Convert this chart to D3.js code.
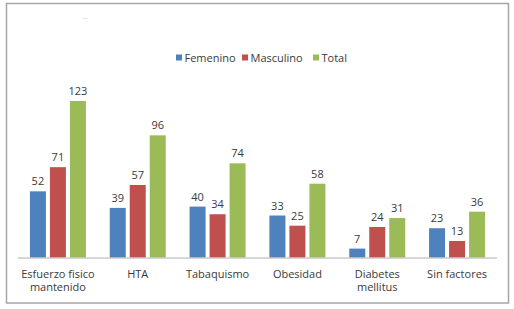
<!DOCTYPE html>
<html>
<head>
<meta charset="utf-8">
<script src="https://cdn.jsdelivr.net/npm/d3@7"></script>
<style>
  html, body { margin: 0; padding: 0; background: #fff; }
  text { font-family: "Open Sans", "Noto Sans", sans-serif; fill: #3a3a3a; }
</style>
</head>
<body>
<svg id="chart" width="514" height="309"></svg>
<script>
const categories = [["Esfuerzo fisico", "mantenido"], ["HTA"], ["Tabaquismo"], ["Obesidad"], ["Diabetes", "mellitus"], ["Sin factores"]];
const seriesNames = ["Femenino", "Masculino", "Total"];
const femenino = [52, 39, 40, 33, 7, 23];
const masculino = [71, 57, 34, 25, 24, 13];
const total = [123, 96, 74, 58, 31, 36];
const colors = ["#4f81bd", "#c0504d", "#9bbb59"];

const svg = d3.select("#chart");

// frame
svg.append("rect")
  .attr("x", 6.5).attr("y", 3.5)
  .attr("width", 502).attr("height", 299.5)
  .attr("fill", "none")
  .attr("stroke", "#a6a6a6")
  .attr("stroke-width", 1.5);

svg.append("text")
  .attr("x", 83).attr("y", 19)
  .attr("font-size", 9)
  .style("fill", "#c0c0c0")
  .text("..");

const x0 = d3.scaleBand()
  .domain(d3.range(categories.length))
  .range([18, 497]);

const x1 = d3.scaleBand()
  .domain(seriesNames)
  .range([x0.bandwidth() / 2 - 28, x0.bandwidth() / 2 + 28])
  .paddingInner(0.2);

const y = d3.scaleLinear().domain([0, 123]).range([257.5, 101]);

const rows = categories.map((c, i) => ({
  i,
  vals: [femenino[i], masculino[i], total[i]]
}));

const g = svg.selectAll("g.cat")
  .data(rows)
  .enter()
  .append("g")
  .attr("class", "cat")
  .attr("transform", d => `translate(${x0(d.i)},0)`);

g.selectAll("rect")
  .data(d => d.vals.map((v, k) => ({ v, k })))
  .enter()
  .append("rect")
  .attr("x", d => x1(seriesNames[d.k]))
  .attr("y", d => y(d.v))
  .attr("width", x1.bandwidth())
  .attr("height", d => y(0) - y(d.v))
  .attr("fill", d => colors[d.k]);

g.selectAll("text.val")
  .data(d => d.vals.map((v, k) => ({ v, k })))
  .enter()
  .append("text")
  .attr("class", "val")
  .attr("x", d => x1(seriesNames[d.k]) + x1.bandwidth() / 2)
  .attr("y", d => y(d.v) - 6)
  .attr("text-anchor", "middle")
  .attr("font-size", 11)
  .text(d => d.v);

// baseline
svg.append("line")
  .attr("x1", 18).attr("x2", 497)
  .attr("y1", y(0) + 0.5).attr("y2", y(0) + 0.5)
  .attr("stroke", "#b0b0b0")
  .attr("stroke-width", 1);

// category labels
g.each(function (d) {
  const t = d3.select(this).append("text")
    .attr("text-anchor", "middle")
    .attr("font-size", 11);
  categories[d.i].forEach((line, j) => {
    t.append("tspan")
      .attr("x", x0.bandwidth() / 2)
      .attr("y", 278 + j * 12.5)
      .text(line);
  });
});

// legend
const legendX = [176, 242, 313];
const leg = svg.selectAll("g.leg")
  .data(seriesNames)
  .enter()
  .append("g")
  .attr("class", "leg")
  .attr("transform", (d, i) => `translate(${legendX[i]},58)`);

leg.append("rect")
  .attr("x", 0).attr("y", -3.5)
  .attr("width", 6).attr("height", 6)
  .attr("fill", (d, i) => colors[i]);

leg.append("text")
  .attr("x", 8.5).attr("y", 4)
  .attr("font-size", 11)
  .text(d => d);
</script>
</body>
</html>
